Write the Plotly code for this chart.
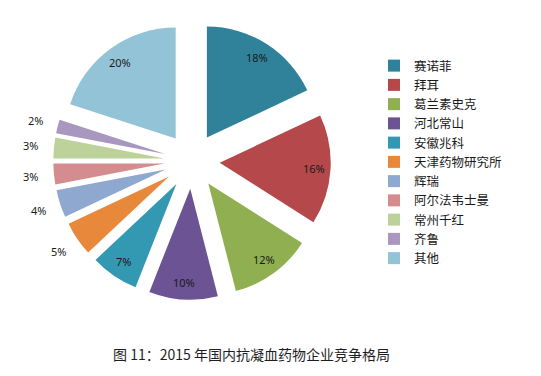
import math
import plotly.graph_objects as go

companies = ["赛诺菲", "拜耳", "葛兰素史克", "河北常山", "安徽兆科", "天津药物研究所",
             "辉瑞", "阿尔法韦士曼", "常州千红", "齐鲁", "其他"]
shares = [18, 16, 12, 10, 7, 5, 4, 3, 3, 2, 20]
colors = ["#2F829A", "#B5484A", "#8FAF50", "#6B5394", "#3399B2", "#E8883A",
          "#8EA8CF", "#D48C8E", "#BDD19A", "#A898BF", "#93C3D6"]
label_inside = [True, True, True, True, True, False, False, False, False, False, True]
title_text = "图 11：2015 年国内抗凝血药物企业竞争格局"

W, H = 541, 376
OFF = 8                      # page body offset of the rendered figure
CX, CY = 192 - OFF, 161 - OFF  # pie centre (px)
R = 111                      # pie radius (px)
PULL = 0.25
half = R * (1 + PULL)

fig = go.Figure(go.Pie(
    labels=companies, values=shares, sort=False, direction="clockwise", rotation=0,
    marker=dict(colors=colors, line=dict(width=0)),
    pull=PULL, textinfo="none",
    domain=dict(x=[(CX - half) / W, (CX + half) / W],
                y=[1 - (CY + half) / H, 1 - (CY - half) / H]),
    hoverinfo="skip", automargin=False,
))

# percentage labels placed along each slice's mid-angle
annotations = []
total = sum(shares)
cum = 0
for v, inside in zip(shares, label_inside):
    theta = 2 * math.pi * (cum + v / 2) / total
    cum += v
    rad = R * PULL + 0.85 * R if inside else R * (1 + PULL) + 23
    px = CX + rad * math.sin(theta)
    py = CY - rad * math.cos(theta)
    annotations.append(dict(text=f"{v}%", x=px / W, y=1 - py / H, xref="paper", yref="paper",
                            xanchor="center", yanchor="middle", showarrow=False,
                            font=dict(family="Noto Sans", size=11, color="#1a1a1a")))

annotations.append(dict(text=title_text, x=(251 - OFF) / W, y=1 - (354 - OFF) / H,
                        xref="paper", yref="paper", xanchor="center", yanchor="middle",
                        showarrow=False,
                        font=dict(family="Noto Sans CJK SC", size=14, color="#1e1e1e")))

fig.update_layout(
    width=W, height=H, margin=dict(l=0, r=0, t=0, b=0, autoexpand=False),
    paper_bgcolor="white", plot_bgcolor="white",
    legend=dict(x=(374 - OFF) / W, y=1 - (51 - OFF) / H, xanchor="left", yanchor="top",
                font=dict(family="Noto Sans CJK SC", size=12.5, color="#1a1a1a"),
                bgcolor="rgba(0,0,0,0)", itemclick=False),
    annotations=annotations,
)
fig.write_html("out.html")
